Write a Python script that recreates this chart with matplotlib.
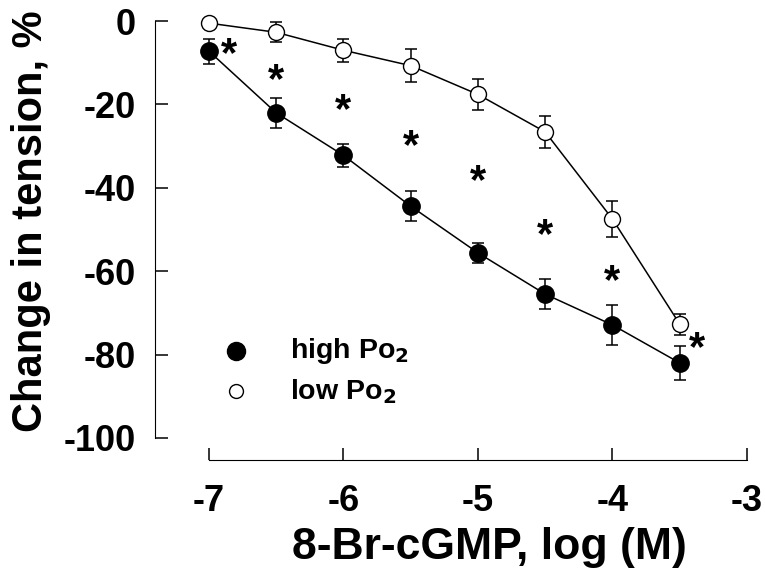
import numpy as np
import matplotlib.pyplot as plt

plt.rcParams['font.family'] = ['Liberation Sans', 'DejaVu Sans']
plt.rcParams['font.weight'] = 'bold'
plt.rcParams['axes.unicode_minus'] = False

# 数据
log_conc = [-7, -6.5, -6, -5.5, -5, -4.5, -4, -3.5]
high_po2 = [-7.2, -22.0, -32.2, -44.4, -55.6, -65.5, -72.9, -82.0]
high_err = [3.0, 3.6, 2.8, 3.6, 2.4, 3.6, 4.8, 4.0]
low_po2 = [-0.5, -2.7, -7.0, -10.7, -17.6, -26.6, -47.5, -72.7]
low_err = [0.8, 2.4, 2.8, 3.9, 3.8, 3.8, 4.3, 2.5]
star_x = [-6.85, -6.5, -6, -5.5, -5, -4.5, -4, -3.37]
star_y = [-6.5, -12.7, -20, -28.5, -37, -50, -61, -77]

fig = plt.figure(figsize=(7.65, 5.68), dpi=100)
ax = fig.add_axes([0.2026, 0.190, 0.7915, 0.795])

ax.errorbar(log_conc, low_po2, yerr=low_err, fmt='o-', color='black', mfc='white',
            mec='black', ms=11.5, lw=1.1, elinewidth=1.1, capsize=4.5, capthick=1.1,
            label='low Po$_2$', zorder=3)
ax.errorbar(log_conc, high_po2, yerr=high_err, fmt='o-', color='black', mfc='black',
            mec='black', ms=12.5, lw=1.1, elinewidth=1.1, capsize=4.5, capthick=1.1,
            label='high Po$_2$', zorder=3)

# 显著性星号（星号字形偏上，往下挪一点）
for sx, sy in zip(star_x, star_y):
    ax.annotate('*', (sx, sy), xytext=(0, -5), textcoords='offset points',
                fontsize=30, fontweight='bold', ha='center', va='center')

# 图例（手动）
ax.plot([-6.80], [-79.2], 'o', color='black', ms=13)
ax.plot([-6.80], [-88.8], 'o', mfc='white', mec='black', ms=10)
ax.text(-6.40, -79.2, 'high Po$_2$', fontsize=20.5, fontweight='bold', va='center')
ax.text(-6.40, -88.8, 'low Po$_2$', fontsize=20.5, fontweight='bold', va='center')

ax.set_xlim(-7.4, -2.9)
ax.set_ylim(-105.3, 3)
ax.spines['top'].set_visible(False)
ax.spines['right'].set_visible(False)
ax.spines['left'].set_bounds(-100, 0)
ax.spines['bottom'].set_bounds(-7, -3)
ax.set_xticks([-7, -6, -5, -4, -3])
ax.set_yticks([0, -20, -40, -60, -80, -100])
ax.tick_params(direction='in', length=9, width=1.1, labelsize=26)
ax.tick_params(axis='y', pad=13.5)
ax.tick_params(axis='x', pad=17)
ax.set_xlabel('8-Br-cGMP, log (M)', fontsize=32, fontweight='bold', va='top')
ax.set_ylabel('Change in tension, %', fontsize=30, fontweight='bold')
ax.xaxis.set_label_coords(0.553, -0.1484)
ax.yaxis.set_label_coords(-0.1718, 0.528)

fig.savefig('out.png', dpi=100)
